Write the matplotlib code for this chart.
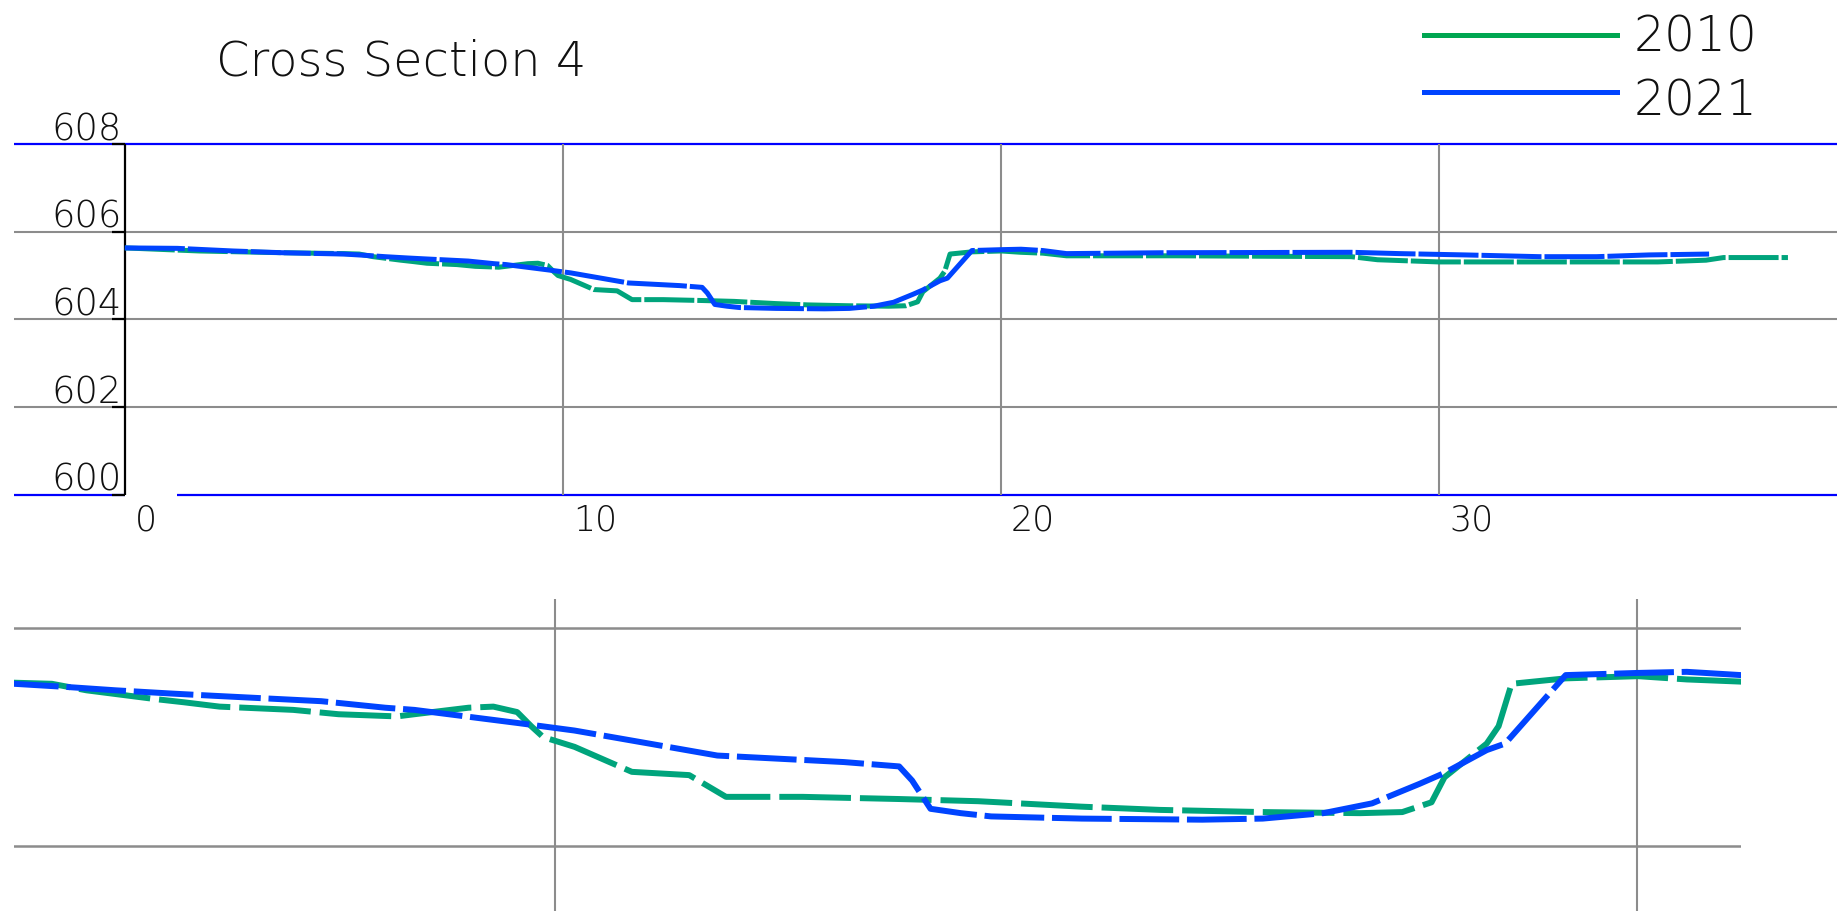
import matplotlib
matplotlib.use('Agg')
import matplotlib.pyplot as plt
from matplotlib.lines import Line2D

# station (m) and elevation (m)
x_2010 = [0, 1.7, 3.6, 5.0, 5.35, 5.67, 6.3, 6.57, 6.9, 7.58, 8.0, 8.54, 8.7,
          9.2, 9.43, 9.65, 9.78, 9.89, 10.18, 10.71, 11.24, 11.58, 12.29,
          13.18, 13.91, 14.86, 15.59, 16.54, 17.44, 17.83, 18.1, 18.22, 18.61,
          18.72, 18.84, 19.34, 20.01, 20.46, 20.96, 21.5, 24.0, 28.0, 28.6,
          30.0, 35.0, 36.1, 36.5, 37.97]
z_2010 = [605.63, 605.56, 605.52, 605.50, 605.49, 605.43, 605.35, 605.32,
          605.28, 605.25, 605.21, 605.19, 605.21, 605.27, 605.28, 605.23,
          605.10, 605.00, 604.91, 604.68, 604.65, 604.45, 604.45, 604.43,
          604.41, 604.36, 604.33, 604.31, 604.30, 604.31, 604.40, 604.63,
          604.94, 605.10, 605.49, 605.54, 605.56, 605.53, 605.51, 605.45,
          605.45, 605.43, 605.36, 605.31, 605.31, 605.35, 605.41, 605.41]

x_2021 = [0, 1.2, 2.47, 3.6, 5.0, 5.5, 5.94, 6.46, 6.84, 7.84, 8.43, 8.7,
          9.65, 10.18, 10.87, 11.5, 12.67, 13.18, 13.3, 13.47, 13.75, 14.03,
          14.87, 15.98, 16.54, 17.1, 17.55, 17.99, 18.22, 18.61, 18.78, 19.34,
          20.01, 20.46, 20.96, 21.5, 23.7, 28.0, 29.1, 30.6, 32.3, 33.6, 34.8,
          36.17]
z_2021 = [605.63, 605.62, 605.56, 605.52, 605.49, 605.46, 605.43, 605.40,
          605.38, 605.33, 605.27, 605.25, 605.13, 605.06, 604.94, 604.83,
          604.77, 604.73, 604.60, 604.34, 604.30, 604.27, 604.25, 604.24,
          604.25, 604.30, 604.39, 604.57, 604.67, 604.88, 604.94, 605.57,
          605.59, 605.60, 605.57, 605.50, 605.52, 605.53, 605.50, 605.47,
          605.43, 605.43, 605.47, 605.49]

y_ticks = [600, 602, 604, 606, 608]
x_ticks = [0, 10, 20, 30]
title = 'Cross Section 4'
legend_labels = ['2010', '2021']

GREEN = '#00a47c'
GREEN_KEY = '#00a651'
BLUE = '#0044ff'
GRID = '#8c8c8c'
EDGE = '#0000ff'
FONT = dict(family='DejaVu Sans', fontweight='light', color='#111111')

W, H = 1849, 911
fig = plt.figure(figsize=(W / 100, H / 100), dpi=100)


def px_axes(left, top, right, bottom):
    # place an axes by pixel box (origin top-left)
    return fig.add_axes([left / W, 1 - bottom / H, (right - left) / W, (bottom - top) / H])


# --- full section, 1:1 scale
ax = px_axes(14, 130, 1837, 560)
x0, x1 = -2.53, 39.09
ax.set_xlim(x0, x1)
ax.set_ylim(598.51, 608.32)
ax.axis('off')

for y in y_ticks[1:-1]:
    ax.axhline(y, color=GRID, lw=1.5, zorder=1)
ax.axhline(608, color=EDGE, lw=1.6, zorder=1)
ax.hlines(600, x0, 0, color=EDGE, lw=1.6, zorder=1)
ax.hlines(600, 1.2, x1, color=EDGE, lw=1.6, zorder=1)
ax.vlines(x_ticks[1:], 600, 608, color=GRID, lw=1.5, zorder=1)

# y axis with outward ticks
ax.vlines(0, 600, 608, color='k', lw=1.6, zorder=2)
ax.hlines(y_ticks, -0.3, 0, color='k', lw=1.6, zorder=2)
for y in y_ticks:
    ax.text(-0.07, y + 0.09, str(y), ha='right', va='baseline', fontsize=26.5, **FONT)
for x in x_ticks:
    ax.text(x + 0.23, 599.8, str(x), ha='left', va='top', fontsize=25, **FONT)

ax.plot(x_2010, z_2010, color=GREEN, lw=3.6, solid_capstyle='butt',
        dashes=(10, 0.6), zorder=3)
ax.plot(x_2021, z_2021, color=BLUE, lw=3.6, solid_capstyle='butt',
        dashes=(12, 0.6), zorder=4)

# --- enlarged detail of the channel
ax2 = px_axes(14, 599, 1741, 911)
ax2.set_xlim(5.0, 20.96)
ax2.set_ylim(603.40, 606.27)
ax2.axis('off')
for y in [604, 606]:
    ax2.axhline(y, color=GRID, lw=1.8, zorder=1)
for x in [10, 20]:
    ax2.axvline(x, color=GRID, lw=1.5, zorder=1)
ax2.plot(x_2010, z_2010, color=GREEN, lw=4.3, dashes=(12, 1.5), zorder=3)
ax2.plot(x_2021, z_2021, color=BLUE, lw=4.3, dashes=(10, 1.3), zorder=4)

# --- title and key
fig.text(216.5 / W, 1 - 76 / H, title, ha='left', va='baseline', fontsize=34.5, **FONT)

key_line_y = [35, 92.3]
key_text_y = [51.7, 115]
for lab, col, ly, ty in zip(legend_labels, [GREEN_KEY, BLUE], key_line_y, key_text_y):
    fig.add_artist(Line2D([1424 / W, 1617 / W], [1 - ly / H] * 2, color=col, lw=3.6))
    fig.text(1634 / W, 1 - ty / H, lab, ha='left', va='baseline', fontsize=35, **FONT)

fig.savefig('out.png', dpi=100, facecolor='white')
plt.close(fig)
